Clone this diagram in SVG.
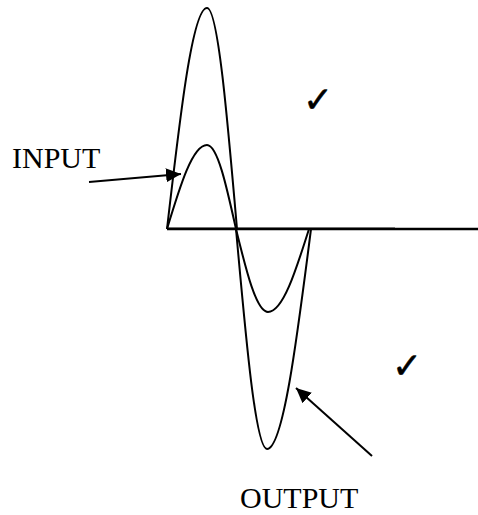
<svg xmlns="http://www.w3.org/2000/svg" width="478" height="515" viewBox="0 0 478 515">
<style>
.curve{fill:none;stroke:#000;stroke-width:2}
.lbl{font-family:"Liberation Serif","Times New Roman",serif;font-size:30px;fill:#000}
.chk{font-family:"DejaVu Sans",sans-serif;font-size:36px;fill:#000;stroke:#000;stroke-width:0.5}
.arr{stroke:#000;stroke-width:2;fill:none}
</style>
<defs>
<marker id="ah" markerUnits="userSpaceOnUse" markerWidth="16" markerHeight="14" refX="15" refY="7" orient="auto">
<path d="M0,0 L15,7 L0,14 z" fill="#000"/>
</marker>
</defs>
<g id="axis">
<line x1="167" y1="227.5" x2="395" y2="227.5" stroke="#999" stroke-width="1"/>
<line x1="167" y1="229" x2="478" y2="229" stroke="#000" stroke-width="2.5"/>
</g>
<g id="output-wave">
<path class="curve" d="M167,229 C180,115.8 192.5,8 207,8 C217.9,8 227.2,115.8 237,229"/>
<path class="curve" d="M236,229 C246.1,341.7 255.8,449 267,449 C282.9,449 296.7,341.7 311,229"/>
</g>
<g id="input-wave">
<path class="curve" d="M167,229 C180,186 192.5,145 207,145 C217.5,145 226.5,186 236,229"/>
<path class="curve" d="M236,229 C246.4,271.5 256.4,312 268,312 C282.8,312 295.6,271.5 309,229"/>
</g>
<g id="connectors">
<line class="arr" x1="89" y1="182" x2="181" y2="174" marker-end="url(#ah)"/>
<line class="arr" x1="372" y1="456" x2="296" y2="388" marker-end="url(#ah)"/>
</g>
<g id="input-label"><text class="lbl" x="12" y="168">INPUT</text></g>
<g id="output-label"><text class="lbl" x="240" y="508">OUTPUT</text></g>
<g id="check-top"><text class="chk" x="303" y="112">✓</text></g>
<g id="check-bottom"><text class="chk" x="392" y="378">✓</text></g>
</svg>
